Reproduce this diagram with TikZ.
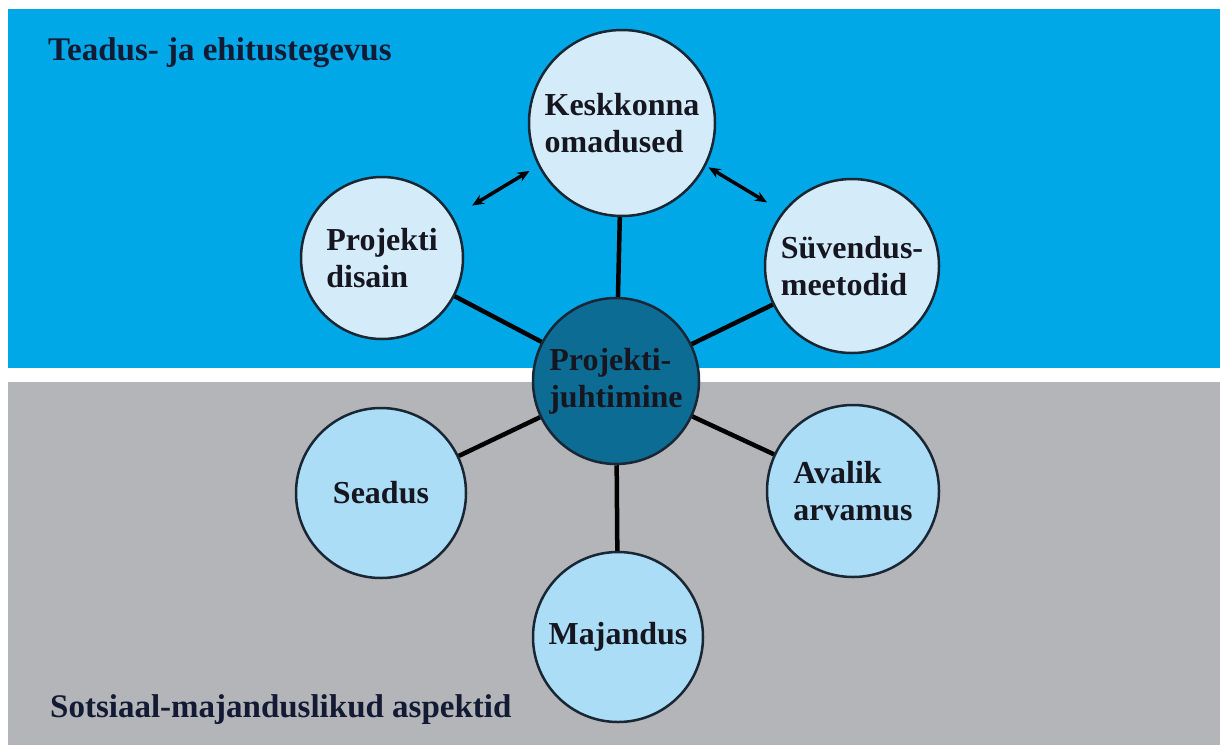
\documentclass[tikz,border=0pt]{standalone}
\usepackage{fontspec}
\setmainfont{Liberation Serif}
\usetikzlibrary{arrows.meta}
\definecolor{bandblue}{RGB}{0,168,232}
\definecolor{bandgray}{RGB}{180,181,185}
\definecolor{upfill}{RGB}{212,236,249}
\definecolor{lowfill}{RGB}{172,221,246}
\definecolor{hubfill}{RGB}{12,108,148}
\definecolor{edgecol}{RGB}{25,38,52}
\definecolor{txtcol}{RGB}{22,22,32}
\definecolor{headcol}{RGB}{18,26,52}
\begin{document}
\begin{tikzpicture}[x=1pt,y=-1pt,
 bubble/.style={circle, draw=edgecol, line width=2.5pt, inner sep=0pt, align=left, text=txtcol, font=\fontsize{32}{37}\selectfont\bfseries},
 upper/.style={bubble, fill=upfill},
 lower/.style={bubble, fill=lowfill},
 hub/.style={bubble, fill=hubfill},
 link/.style={line width=4.5pt, draw=black},
 twoway/.style={line width=3.5pt, draw=black, {Stealth[length=12pt,width=10pt]}-{Stealth[length=12pt,width=10pt]}},
 heading/.style={anchor=base west, inner sep=0pt, text=headcol, font=\fontsize{33}{38}\selectfont\bfseries}]
\useasboundingbox (0,0) rectangle (1220,745);
\fill[white] (0,0) rectangle (1220,745);
\fill[bandblue] (8,9) rectangle (1220,368);
\fill[bandgray] (8,382) rectangle (1220,745);

\node[heading] (t1) at (48,60) {Teadus- ja ehitustegevus};
\node[heading] (t2) at (50,717) {Sotsiaal-majanduslikud aspektid};

\node[upper, minimum size=186pt] (kk) at (622,123) {Keskkonna\\omadused};
\node[upper, minimum size=162pt] (pd) at (382,258) {Projekti\\disain};
\node[upper, minimum size=174pt] (sv) at (852,266) {Süvendus-\\meetodid};
\node[hub, minimum size=166pt] (pj) at (616,381) {Projekti-\\juhtimine};
\node[lower, minimum size=170pt] (se) at (381,493) {Seadus};
\node[lower, minimum size=172pt] (aa) at (853,491) {Avalik\\arvamus};
\node[lower, minimum size=170pt] (mj) at (618,637) {Majandus};

\draw[link] (pj) -- (kk);
\draw[link] (pj) -- (pd);
\draw[link] (pj) -- (sv);
\draw[link] (pj) -- (se);
\draw[link] (pj) -- (aa);
\draw[link] (pj) -- (mj);

\draw[twoway, shorten <=22pt, shorten >=10pt] (pd.30) -- (kk.207);
\draw[twoway, shorten <=3pt, shorten >=18pt] (kk.-27) -- (sv.142);
\end{tikzpicture}
\end{document}
